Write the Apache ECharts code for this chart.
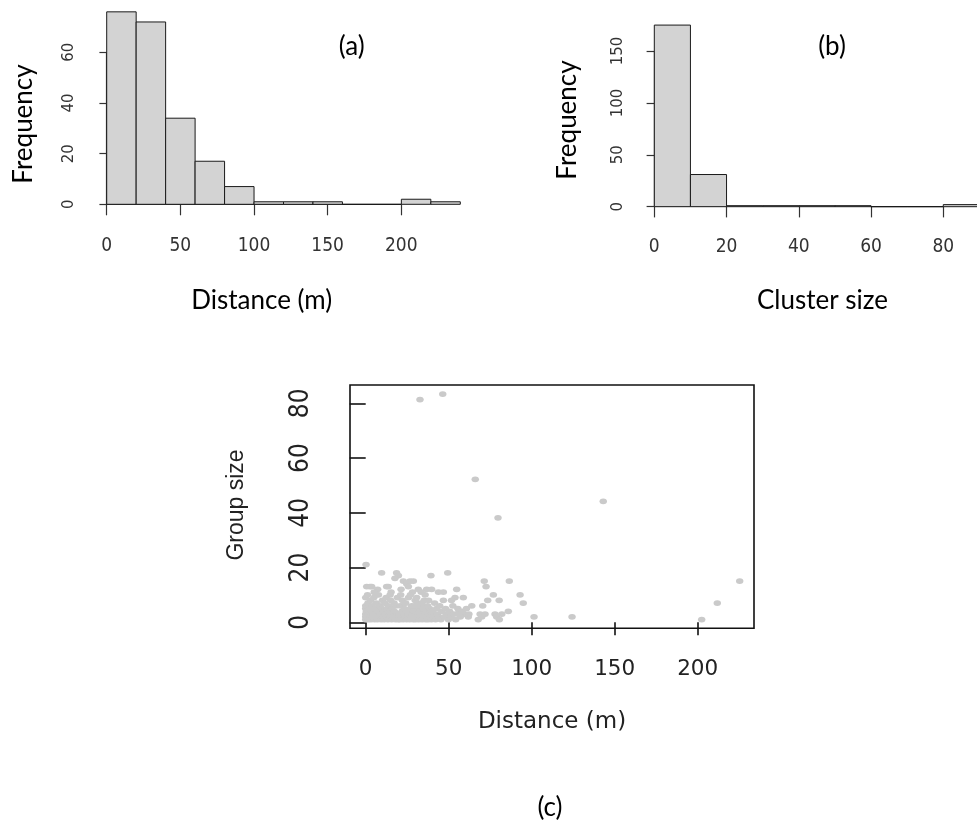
<!DOCTYPE html>
<html><head><meta charset="utf-8">
<script src="https://cdn.jsdelivr.net/npm/echarts@6/dist/echarts.min.js"></script>
<style>html,body{margin:0;padding:0;background:#fff}#c{width:977px;height:831px}</style>
</head><body><div id="c"></div>
<script>
// ---- data (a): distance histogram ----
const distBinEdges = [0,20,40,60,80,100,120,140,160,180,200,220,240];
const distCounts   = [76,72,34,17,7,1,1,1,0,0,2,1];
const distTicks    = [0,50,100,150,200];
const freqTicksA   = [0,20,40,60];
// ---- data (b): cluster size histogram ----
const sizeBinEdges = [0,10,20,30,40,50,60,70,80,90];
const sizeCounts   = [175,31,1,1,1,1,0,0,2];
const sizeTicks    = [0,20,40,60,80];
const freqTicksB   = [0,50,100,150];
// ---- data (c): distance (m) vs group size ----
const scatterTicksX = [0,50,100,150,200];
const scatterTicksY = [0,20,40,60,80];
const groupsNear = [ // distance 0-20 m
 [0.2,21],[9.6,18],[18.6,18],[19.7,17],[17.6,16],[0.6,13],[2.6,13],[3.6,13],[12.6,13],[13.6,13],[7.2,12],[15.3,11],[5.1,11],
 [0,1],[0,2],[0,3],[0,5],[0,6],[0,9],[0.4,4],[0.9,2],[1.3,7],[1.6,1],[1.9,3],[2.3,5],[2.7,2],[2.9,8],[3.2,1],[3.5,4],
 [3.9,6],[4.3,2],[4.6,3],[4.9,9],[5.3,1],[5.6,5],[6.1,2],[6.4,7],[6.8,3],[7.1,1],[7.5,4],[7.7,10],[8.2,2],[8.6,6],
 [8.8,3],[9.3,1],[9.7,5],[10.1,8],[10.4,2],[10.9,4],[11.2,1],[11.5,7],[11.9,3],[12.3,9],[12.8,2],[13.1,5],[13.4,1],
 [13.8,6],[14.2,3],[14.5,4],[14.9,2],[15.1,8],[15.6,1],[15.8,5],[16.2,3],[16.7,2],[17.1,7],[17.3,4],[17.9,1],[18.2,6],
 [18.4,2],[18.8,3],[19.1,9],[19.5,1],[1.1,10],[6.2,10],[14.7,10]
];
const groupsMid = [ // distance 20-40 m
 [22.7,15],[28.7,15],[39.3,17],[24.7,14],[26.7,15],[25.7,13],[31.7,12],[36.7,12],[39.7,12],[33.4,11],[21.3,12],[28.2,11],[32.7,81],
 [20.2,3],[20.6,1],[20.9,6],[21.4,2],[21.8,4],[22.1,8],[22.5,1],[23.0,3],[23.3,5],[23.8,2],[24.1,7],[24.6,1],[24.9,4],
 [25.3,2],[25.8,9],[26.2,3],[26.5,1],[27.0,5],[27.4,2],[27.7,6],[28.1,3],[28.6,1],[29.0,4],[29.3,2],[29.8,8],[30.1,1],
 [30.5,3],[30.9,5],[31.3,2],[31.6,7],[32.0,1],[32.4,4],[32.9,2],[33.2,6],[33.7,3],[34.0,1],[34.4,5],[34.9,2],[35.2,8],
 [35.6,3],[36.1,1],[36.4,4],[36.9,2],[37.3,6],[37.6,1],[38.0,3],[38.5,5],[38.8,2],[39.2,4],[39.6,1],
 [21.1,10],[26.9,10],[30.7,9],[33.9,7],[35.8,10],[37.9,8],[23.6,7],[29.5,6],[39.8,3]
];
const groupsFar = [ // distance 40-60 m
 [49.4,18],[46.8,11],[43.8,11],[54.8,12],[46.4,83],[53.8,9],[46.8,8],[51.7,8],[58.8,9],[59.6,3],
 [40.3,4],[40.8,2],[41.5,7],[42.1,1],[42.7,5],[43.2,3],[44.0,2],[44.6,6],[45.3,1],[45.9,4],[47.4,2],[48.1,5],
 [48.7,3],[49.8,1],[50.6,4],[51.2,2],[52.5,6],[53.1,3],[54.2,1],[55.5,5],[56.3,4],[57.0,2],[58.1,4],[55.9,3]
];
const groupsOuter = [ // distance > 60 m
 [60.7,5],[61.8,2],[62.2,3],[63.9,6],[66.0,52],[67.8,1],[68.9,3],[69.9,2],[70.5,6],[71.4,15],[71.9,3],[72.5,13],
 [73.5,8],[76.9,10],[77.9,3],[78.9,2],[79.7,38],
 [80.4,8],[80.5,1],[86.5,15],[85.9,4],[93.0,10],[94.9,7],[82.0,3],
 [101.4,2],[124.3,2],[143.1,44],[202.4,1],[211.8,7],[225.3,15]
];

function binData(edges, counts){
  return counts.map((c,i)=>[edges[i], edges[i+1], c]);
}
function histItem(params, api){
  const p0 = api.coord([api.value(0), api.value(2)]);
  const p1 = api.coord([api.value(1), 0]);
  return {type:'rect', shape:{x:p0[0], y:p0[1], width:p1[0]-p0[0], height:p1[1]-p0[1]},
          style:{fill:'#d3d3d3', stroke:'#1a1a1a', lineWidth:1}};
}
const narrow = '"Liberation Sans Narrow","DejaVu Sans Condensed",sans-serif';
const hidden = (i,min,max)=>({gridIndex:i, type:'value', min, max, show:false});
function tickAxis(i, ticks, opts){
  return Object.assign({
    gridIndex:i, type:'value', min:ticks[0], max:ticks[ticks.length-1], interval:ticks[1]-ticks[0],
    splitLine:{show:false},
    axisLine:{show:true, lineStyle:{color:'#333', width:1.2}},
    axisTick:{show:true, lineStyle:{color:'#333', width:1.2}},
  }, opts);
}
const chart = echarts.init(document.getElementById('c'), null, {renderer:'canvas'});
const allPoints = groupsNear.concat(groupsMid, groupsFar, groupsOuter);
const G = o => Object.assign({outerBoundsMode:'none', containLabel:false}, o);
chart.setOption({
  animation:false,
  backgroundColor:'#fff',
  grid:[
    G({left:106.7, top:1.7, width:353.6, height:202.6}),
    G({left:106.7, top:52.3, width:294.6, height:152}),
    G({left:654.3, top:19.9, width:325.1, height:186.8}),
    G({left:654.3, top:51, width:289, height:155.7}),
    G({left:350, top:385, width:404, height:243.3, show:true, borderColor:'#111', borderWidth:1.6, backgroundColor:'transparent'}),
    G({left:365.7, top:403.3, width:332, height:219})
  ],
  xAxis:[
    hidden(0,0,240),
    tickAxis(1, distTicks, {position:'bottom', offset:8, axisTick:{show:true, length:11, lineStyle:{color:'#333',width:1.2}},
      axisLabel:{margin:24.5, fontSize:19, fontFamily:narrow, color:'#333'}}),
    hidden(2,0,90),
    tickAxis(3, sizeTicks, {position:'bottom', offset:7.6, axisTick:{show:true, length:10.7, lineStyle:{color:'#333',width:1.2}},
      axisLabel:{margin:22.9, fontSize:19, fontFamily:narrow, color:'#333'}}),
    hidden(4,-9.46,233.92),
    tickAxis(5, scatterTicksX, {position:'bottom', offset:6, axisLine:{show:false},
      axisTick:{show:true, length:13, lineStyle:{color:'#111',width:1.6}},
      axisLabel:{margin:30, fontSize:21.5, fontFamily:'"DejaVu Sans",sans-serif', color:'#222'}})
  ],
  yAxis:[
    hidden(0,0,80),
    tickAxis(1, freqTicksA, {position:'left', offset:14.4, axisTick:{show:true, length:7.3, lineStyle:{color:'#333',width:1.2}},
      axisLabel:{margin:16, rotate:90, fontSize:15, fontFamily:'"DejaVu Sans",sans-serif', color:'#333'}}),
    hidden(2,0,180),
    tickAxis(3, freqTicksB, {position:'left', offset:13.3, axisTick:{show:true, length:7.7, lineStyle:{color:'#333',width:1.2}},
      axisLabel:{margin:15, rotate:90, fontSize:15, fontFamily:'"DejaVu Sans",sans-serif', color:'#333'}}),
    hidden(4,-2.18,86.29),
    tickAxis(5, scatterTicksY, {position:'left', offset:15.7, axisLine:{show:false},
      axisTick:{show:true, length:16, lineStyle:{color:'#111',width:1.6}},
      axisLabel:{margin:36, rotate:90, fontSize:26, fontFamily:narrow, color:'#222'}})
  ],
  series:[
    {type:'custom', xAxisIndex:0, yAxisIndex:0, renderItem:histItem, data:binData(distBinEdges, distCounts), encode:{x:[0,1], y:2}, silent:true, clip:false},
    {type:'custom', xAxisIndex:2, yAxisIndex:2, renderItem:histItem, data:binData(sizeBinEdges, sizeCounts), encode:{x:[0,1], y:2}, silent:true, clip:false},
    {type:'scatter', xAxisIndex:4, yAxisIndex:4, data:allPoints, symbol:'circle', symbolSize:[7.5,5.8],
     itemStyle:{color:'#cacaca', opacity:1}, silent:true}
  ],
  graphic:[
    {type:'text', x:24, y:124, rotation:Math.PI/2, style:{text:'Frequency', font:'26px Lato', fill:'#000', align:'center', verticalAlign:'middle'}},
    {type:'text', x:351.7, y:46.7, style:{text:'(a)', font:'26px Lato', fill:'#000', align:'center', verticalAlign:'middle'}},
    {type:'text', x:261.7, y:301, style:{text:'Distance (m)', font:'26px Lato', fill:'#000', align:'center', verticalAlign:'middle'}},
    {type:'text', x:567.5, y:120, rotation:Math.PI/2, style:{text:'Frequency', font:'26px Lato', fill:'#000', align:'center', verticalAlign:'middle'}},
    {type:'text', x:832, y:46.7, style:{text:'(b)', font:'26px Lato', fill:'#000', align:'center', verticalAlign:'middle'}},
    {type:'text', x:822.5, y:301, style:{text:'Cluster size', font:'26px Lato', fill:'#000', align:'center', verticalAlign:'middle'}},
    {type:'text', x:237, y:505, rotation:Math.PI/2, style:{text:'Group size', font:'23px "Liberation Sans"', fill:'#222', align:'center', verticalAlign:'middle'}},
    {type:'text', x:552, y:722, style:{text:'Distance (m)', font:'23px "DejaVu Sans"', fill:'#222', align:'center', verticalAlign:'middle'}},
    {type:'text', x:550, y:808, style:{text:'(c)', font:'26px Lato', fill:'#000', align:'center', verticalAlign:'middle'}}
  ]
});
</script></body></html>
